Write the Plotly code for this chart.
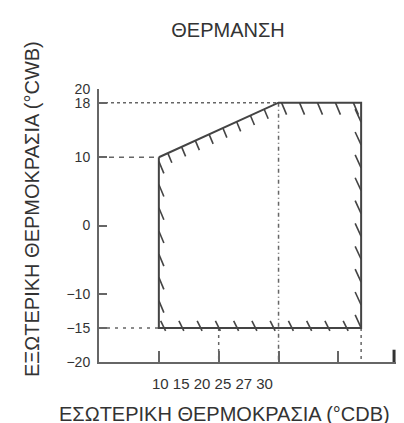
import numpy as np
import plotly.graph_objects as go

# operating envelope (heating)
env_x = [10, 30, 43.8, 43.8, 10, 10]
env_y = [10, 18, 18, -15, -15, 10]

y_ticks = [-20, -15, -10, 0, 10, 18, 20]
x_tick_marks = [10, 20, 30, 40]
x_end_mark = 49.3
x_labels = ["10", "15", "20", "25", "27", "30"]

title_text = "ΘΕΡΜΑΝΣΗ"
x_title = "ΕΣΩΤΕΡΙΚΗ ΘΕΡΜΟΚΡΑΣΙΑ (°CDB)"
y_title = "ΕΞΩΤΕΡΙΚΗ ΘΕΡΜΟΚΡΑΣΙΑ (°CWB)"

X_RANGE = [0, 52.3]
Y_RANGE = [-20, 20]

INK = "#444444"
GUIDE = "#666666"


def strokes(anchors, d0, d1):
    # short hatch strokes: each from anchor+d0 to anchor+d1
    xs, ys = [], []
    for ax, ay in anchors:
        xs += [ax + d0[0], ax + d1[0], None]
        ys += [ay + d0[1], ay + d1[1], None]
    return xs, ys


x_lo, x_hi = env_x[0], env_x[2]
y_lo, y_hi = env_y[3], env_y[1]
slope = (env_y[1] - env_y[0]) / (env_x[1] - env_x[0])

top = [(x, y_hi) for x in np.arange(30.5, 43.0, 3.0)]
right = [(x_hi, y_lo + k * 3.35) for k in range(10)]
left = [(x_lo, 9.4 - k * 3.4) for k in range(7)]
sloped = [(x, env_y[0] + (x - x_lo) * slope) for x in 11.5 + 2.3 * np.arange(8)]
bottom = [(x, y_lo) for x in 10.8 + 3.05 * np.arange(11)]

hx, hy = [], []
for pts, d0, d1 in [
    (top, (0, 0), (0.84, -1.76)),
    (left, (0, 0), (0.84, -1.76)),
    (sloped, (0, 0), (0.67, -1.4)),
    (right, (-1.0, 1.9), (0, 0)),
    (bottom, (-0.5, 1.03), (0.33, -0.44)),
]:
    sx, sy = strokes(pts, d0, d1)
    hx += sx
    hy += sy

fig = go.Figure()

# guide lines
guides = [
    ([X_RANGE[0], env_x[1]], [y_hi, y_hi], "3px,3px"),
    ([X_RANGE[0], x_lo], [env_y[0], env_y[0]], "5px,5px"),
    ([X_RANGE[0], x_lo], [y_lo, y_lo], "3px,5px"),
    ([env_x[1], env_x[1]], [y_hi, Y_RANGE[0]], "4px,3px,1px,3px"),
    ([20, 20], [y_lo, Y_RANGE[0]], "3px,4px"),
    ([x_hi, x_hi], [y_lo, Y_RANGE[0]], "3px,4px"),
]
for gx, gy, dash in guides:
    fig.add_trace(go.Scatter(x=gx, y=gy, mode="lines",
                             line=dict(color=GUIDE, width=1.5, dash=dash),
                             hoverinfo="skip", showlegend=False))

fig.add_trace(go.Scatter(x=hx, y=hy, mode="lines",
                         line=dict(color=INK, width=1.6),
                         hoverinfo="skip", showlegend=False))

fig.add_trace(go.Scatter(x=env_x, y=env_y, mode="lines",
                         line=dict(color=INK, width=2),
                         showlegend=False))

fig.add_trace(go.Scatter(x=[x_end_mark, x_end_mark], y=[-18.2, Y_RANGE[0]], mode="lines",
                         line=dict(color="#333333", width=3),
                         hoverinfo="skip", showlegend=False))

fig.update_layout(
    width=404, height=423,
    margin=dict(l=91, r=0, t=81, b=69),
    paper_bgcolor="white", plot_bgcolor="white",
    font=dict(family="Liberation Sans, Arial, sans-serif", color="#333333"),
    title=dict(text=title_text, x=220 / 404, xanchor="center",
               y=1 - 22 / 423, yanchor="middle",
               font=dict(size=20, color="#333333")),
    showlegend=False,
)

fig.update_xaxes(range=X_RANGE, showgrid=False, zeroline=False,
                 showline=True, linecolor=GUIDE, linewidth=2,
                 tickmode="array", tickvals=x_tick_marks, ticks="inside",
                 ticklen=11, tickwidth=1.5, tickcolor=GUIDE,
                 showticklabels=False)

fig.update_yaxes(range=Y_RANGE, showgrid=False, zeroline=False,
                 showline=True, linecolor=GUIDE, linewidth=2,
                 tickmode="array", tickvals=y_ticks, ticks="inside",
                 ticklen=8, tickwidth=1.5, tickcolor=GUIDE,
                 ticklabelstandoff=4,
                 tickfont=dict(size=14, color="#333333"))

# x tick labels as printed on the drawing
fig.add_annotation(text=" ".join(x_labels), xref="x", yref="paper",
                   x=19.0, y=-0.077, showarrow=False,
                   xanchor="center", yanchor="middle",
                   font=dict(size=15, color="#333333"))

fig.add_annotation(text=x_title, xref="paper", yref="paper",
                   x=(216.5 - 91) / 313, y=(354 - 406) / 273, showarrow=False,
                   xanchor="center", yanchor="middle",
                   font=dict(size=20, color="#333333"))

fig.add_annotation(text=y_title, xref="paper", yref="paper", textangle=-90,
                   x=(24 - 91) / 313, y=(354 - 201) / 273, showarrow=False,
                   xanchor="center", yanchor="middle",
                   font=dict(size=20, color="#333333"))

fig.write_html("out.html")
